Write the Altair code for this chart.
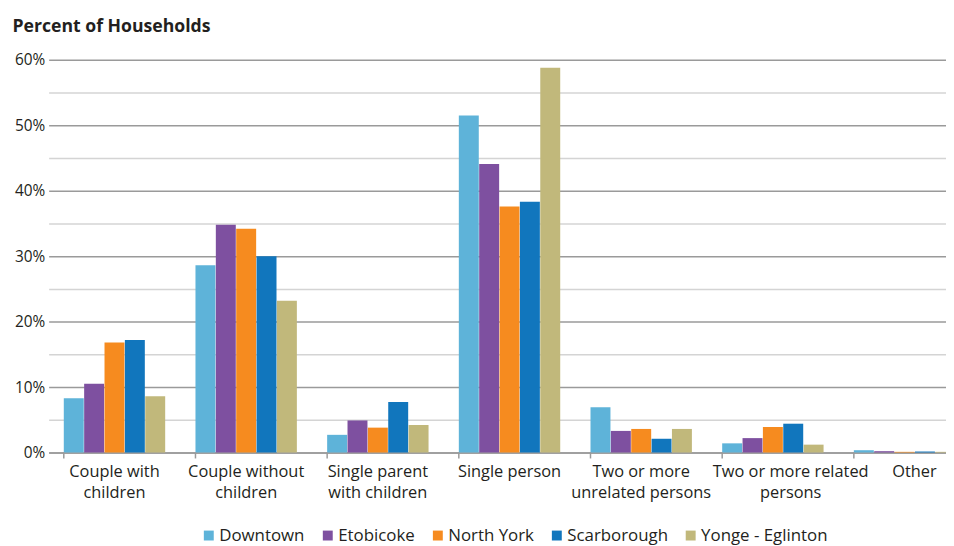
import altair as alt
import pandas as pd

categories = [
    "Couple with|children",
    "Couple without|children",
    "Single parent|with children",
    "Single person",
    "Two or more|unrelated persons",
    "Two or more related|persons",
    "Other",
]
series = ["Downtown", "Etobicoke", "North York", "Scarborough", "Yonge - Eglinton"]
colors = ["#5eb3d9", "#7e50a0", "#f68b1f", "#1176bd", "#c1b87b"]

downtown = [8.3, 28.6, 2.7, 51.5, 6.9, 1.4, 0.35]
etobicoke = [10.5, 34.8, 4.9, 44.1, 3.3, 2.2, 0.2]
north_york = [16.8, 34.2, 3.8, 37.6, 3.6, 3.9, 0.1]
scarborough = [17.2, 30.0, 7.7, 38.3, 2.1, 4.4, 0.15]
yonge = [8.6, 23.2, 4.2, 58.8, 3.6, 1.2, 0.1]

values = [downtown, etobicoke, north_york, scarborough, yonge]
rows = []
for s, vals in zip(series, values):
    for c, v in zip(categories, vals):
        rows.append({"category": c, "series": s, "value": v})
df = pd.DataFrame(rows)
cat_df = pd.DataFrame({"category": categories})

FONT = "Open Sans"
PLOT_W = 905
PLOT_H = 396
BAND_RANGE = 929.6

xscale = alt.Scale(domain=categories, range=[0, BAND_RANGE], paddingInner=0.23, paddingOuter=0.115)

label_offset = {
    "condition": [
        {"test": "datum.value == 'Two or more related|persons'", "value": 18},
        {"test": "datum.value == 'Other'", "value": 10},
    ],
    "value": 0,
}

bars = alt.Chart(df).mark_bar().encode(
    x=alt.X("category:N", sort=categories, scale=xscale,
            axis=alt.Axis(title=None, labelAngle=0, ticks=False, domain=True,
                          domainColor="#9a9a9a", domainWidth=1.5,
                          labelExpr="split(datum.label, '|')",
                          labelOffset=label_offset,
                          labelFont=FONT, labelFontSize=16.5, labelColor="#231f20",
                          labelPadding=11, labelLineHeight=21)),
    xOffset=alt.XOffset("series:N", sort=series, scale=alt.Scale(paddingInner=0.02)),
    y=alt.Y("value:Q", scale=alt.Scale(domain=[0, 60], nice=False),
            axis=alt.Axis(values=list(range(0, 65, 5)),
                          labelExpr="datum.value % 10 == 0 ? datum.value + '%' : ''",
                          grid=True,
                          gridColor=alt.condition("datum.value % 10 == 0", alt.value("#9a9a9a"), alt.value("#d4d4d4")),
                          gridWidth=1.5,
                          ticks=False, domain=False, labelPadding=4,
                          labelFont=FONT, labelFontSize=15.5, labelColor="#231f20",
                          title="Percent of Households", titleAngle=0,
                          titleX=-37, titleY=-29, titleAlign="left", titleBaseline="alphabetic",
                          titleFont=FONT, titleFontSize=17.8, titleFontWeight="bold",
                          titleColor="#231f20")),
    color=alt.Color("series:N", sort=series,
                    scale=alt.Scale(domain=series, range=colors),
                    legend=alt.Legend(title=None, orient="none", direction="horizontal",
                                      columns=5, legendX=153, legendY=471,
                                      symbolType="square", symbolSize=100,
                                      symbolStrokeWidth=0, symbolOpacity=1,
                                      labelFont=FONT, labelFontSize=17, labelColor="#231f20",
                                      labelOffset=2, columnPadding=14)),
)

ticks = alt.Chart(cat_df).mark_rule(color="#9a9a9a", strokeWidth=1.5).encode(
    x=alt.X("category:N", sort=categories, scale=xscale, bandPosition=0),
    y=alt.value(PLOT_H),
    y2=alt.value(PLOT_H + 6),
)

chart = alt.layer(bars, ticks).properties(
    width=PLOT_W, height=PLOT_H,
    autosize=alt.AutoSizeParams(type="none"),
    padding={"left": 41, "top": 50, "right": 0, "bottom": 92},
).configure_view(stroke=None)

chart.save("out.html", embed_options={"renderer": "svg", "actions": False})
